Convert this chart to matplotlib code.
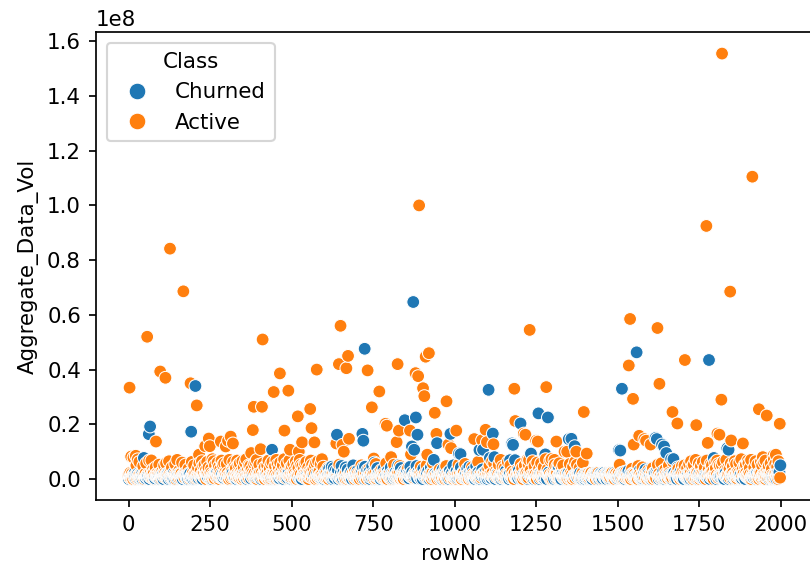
import numpy as np
import pandas as pd
import matplotlib
matplotlib.use("Agg")
import matplotlib.pyplot as plt
import seaborn as sns

# Bulk of the rows: one character per rowNo, volume in quarter-million steps.
# Active:  '0'-'9' -> 0..9,  'A'-'Z' -> 10..35
# Churned: 'a'-'z' -> 0..25
band_lines = [
    "4a7c29e1G5 8b3f0Mh62j 5d9aK3g07i 1e6Pb48c2f 9h3a5Jd70g 2i8bN4e16c 7f0Ra5h39d 3g6c1Ej82a 0b5Hi7d4f9 6c2eL8a3h1",
    "8d4B7g1a5K 3f9c6Ne28h 0i5aQ7d39b 6e2Hg41c8j 4a7Mf30d5S 9b6h2Ci47e 1g8dO3a60f 5c2jL9e74b 7h0aF8g13i 2d6cP5f9a4",
    "6K3a8E1d9R 2f7G5b0N4h 8C1e6Q3a7J 4g9L2c5D0i 7P3d8H1f6M 0b5F9a2T7e 3Q6c1K8g4B 9j2O7e5I0d 5E8a3R6h1L 1c7N4f9A2g",
    "7M2b9F5a0S 4e8K1h6C3j 0P5d7I2c9G 6a3R8f4L1b 2N9e5B7g0Q 8c4H1i6O3d 5T0a7D2f8K 1h6J9b3E5e 9F2g4M8c1P 3a7S0d6G4i",
    "5L8c1Q4a9E 2g6N3d7H0f 8B5i2K9b4R 0e7F6a1M3h 4P9c8D2g5J 7a3S0f6L1d 1G8b5O4e9C 6h2K7a3T0i 3E9d1N8c6g 9j4R5b2H7a",
    "2I7f4M9a1D 8c3Q6e0K5h 5G1b8S2d7L 0a9J4g6E3i 7N5c1P8f2b 3H0e6C9a4R 9d2L7h5F1g 4K8a0O3c6j 1Q6e9B2f5M 6b3T8d4I0a",
    "a7c2k5e9b1 f4Gh0p8d3j 6i1s7a4c9q e2b8m5g0f3 h6n1a9Ld4c 7j2t0e5b8k i3f6a1r9g4 d0o7c5Hb2j 8e4l1a6h9u f3c0Bd7g2i",
    "b5m8a2e7c0 g9f4Kj1h6r 3d8a5s2i7b c0n9e4g1Fl 6a3h8d2t5j f7b0o4c9Ma 1e6q3g8i2k 5h0a7Dd4j9 b2p8f6c1e3 Ng5a0m7h4i",
    "c8e1r6a3j0 h5b9Lg2d7k 4f0i6c8u3a e9Jb1q5h2d 7g4a0m8c6f 2j9n3e1Gi5 b6h0s4a8d1 k3c7f2Pe9g 0a5t8b4j6l h1d7c3Ia9e",
    "d6a0p5f2h8 c3e7Ki9b1m 5g2a8d4r6j 0f9Nc3e7h1 i4b6s2a0g8 k5d1Ef3c9j 7a2o8h6b4e g0q5Jd1i3c 9f6a7m2Bh4 e8j1c5u0d3",
    "f2h9a4m0c6 e8Ld3j7b1r 5a0g6i2k9d c4Mf8h1b3p 7e5a0s9j2g 1d6Hc4n8f3 i0a7e5t2h9 b3Pk1g6d4a 8c2f0o7Ji5 h9e3a1l6b4",
    "3a8F2c6K0e 7d1b5Q9h4j 2N6f0a8C3g 9i4e7L1b5d 0S3a9h2I6c 5f8G1j4m7b 1d6P3e0a9h 8K2c5g7B4i 6a0R9f1d3e 4j7E2b8n5h",
    "7c2M5a9G1f 0h6e3K8d4j 9b1S7a2L5g 3i8D0f6c1Q 5e4a9J2h7b 1d0O6c8g3F 8a5i2N7f4e 2j9H1b6d0T 6c3a8E5h9k 4g7R0e1a6d",
    "0f5C8a3L7h 6b2e9J1d4s 2N7g0c5a8F 9i3K6f1e4b 5d8a2Q7h0j 3c6M1g9e5a 7b0I4d2f8P 1h5a6L3c9i 8e2G7j0b4d 4a9O1f6c3h",
    "a3c7e1g5i0 b8d2f6h4j9 c1a5e3i7g2 d6b0h8f4j1 e9c3a7g2i5 f0d4b8h6j3 g7e1c5a9i4 h2f6d0b3j8 i5g9e3c1a7 j0h4f8d2b6",
    "b4d8a2Lf6h 1c9e3j7g0k i5a8d2Bh4f 6b1m9c3e7j a0g5Fi2d8l 3h7b4e1c9a 5f0Jj6g2n8 d4a1c7Hb3e 9i5f2o8h6a c0g4Dj1e7b",
    "e6a2q8c4Gf 0h9d3j5b1l 7i2Lg6a8e4 c1f5Nb9d3h m0j6a2Ec8g 4e7b1i5Kd9 f3h0o6a2c7 Pg8j4b1e5d i9a3r7Fh2c 6f0m4d8Jb1",
    "5D2a8K1e6h 9c4G7f0b3M 2j6a9Q4d1I 7e0L5c8h3S 1g6B9a2f7N 4i0d5J8e1c 8P3b6a9H2g 0f7R4d1c5E 6h2a8M3j9K 3e5C0b7g4O",
    "8G1a6R4c2M 5e9K3d7f0L 1h4P8b2a6D 9j3S5e0c7H 4a8F2g6N1i 7d0J9b5e3Q 2c6M8a1f4B 6h9O3d7g0T 0b5E1i8c2K 3a7L9e4f6R",
    "4N9b2G7a1S 0d5M8e3c6H 7f2Q4a9i1L 3h6E0j8d5P 9b1K5c2g7O 6a4R0e3f8D 2i9J7a5h1N 8c3F6d0b4T 1e7M2g9a5I 5j0Q8c4f2u",
]
band_step = 0.25e6

# Rows standing clear of the band (rowNo, volume in millions)
active_rows = [3, 8, 15, 22, 28, 57, 70, 84, 97, 113, 127, 168, 190, 209, 216,
               235, 246, 249, 283, 298, 305, 313, 320, 376, 381, 384, 405, 409,
               411, 445, 464, 478, 490, 495, 519, 522, 532, 557, 561, 570, 577,
               637, 645, 650, 656, 660, 668, 673, 676, 733, 746, 752, 769, 788,
               792, 805, 822, 825, 829, 863, 866, 880, 888, 891, 903, 907, 911,
               916, 921, 939, 944, 975, 981, 989, 1005, 1060, 1084, 1095, 1099,
               1119, 1183, 1186, 1212, 1217, 1228, 1230, 1250, 1255, 1281, 1297,
               1306, 1312, 1337, 1345, 1373, 1396, 1405, 1534, 1538, 1547, 1549,
               1566, 1582, 1587, 1601, 1622, 1628, 1668, 1683, 1706, 1741, 1772,
               1776, 1806, 1812, 1818, 1820, 1845, 1848, 1884, 1913, 1933, 1945,
               1957, 1978, 1985, 1997]
active_vol = [33.4, 8.2, 7.8, 8.5, 7.2, 52.0, 6.8, 13.7, 39.3, 37.0, 84.2, 68.6,
              35.0, 26.9, 8.9, 12.0, 14.8, 12.0, 13.7, 11.9, 14.0, 15.5, 13.0,
              9.5, 17.9, 26.4, 10.9, 26.4, 51.0, 31.8, 38.6, 17.7, 32.3, 10.7,
              22.9, 10.0, 13.4, 25.6, 18.6, 13.4, 40.0, 13.0, 42.0, 56.0, 12.5,
              10.0, 40.5, 45.0, 14.7, 39.7, 26.2, 7.5, 32.0, 20.2, 19.5, 8.0,
              13.5, 42.0, 17.7, 17.7, 9.0, 38.7, 37.6, 100.0, 33.2, 30.3, 44.7,
              8.9, 46.0, 24.2, 16.5, 28.4, 12.6, 11.3, 17.7, 14.6, 14.2, 18.0,
              13.5, 12.7, 33.0, 21.2, 16.6, 16.2, 7.0, 54.5, 14.0, 13.7, 33.6,
              7.3, 7.0, 13.7, 10.0, 10.0, 10.0, 24.5, 9.3, 41.5, 58.5, 29.3,
              12.6, 15.8, 14.6, 14.0, 12.6, 55.2, 34.8, 24.5, 20.3, 43.5, 19.7,
              92.5, 13.2, 16.6, 16.2, 29.0, 155.5, 68.5, 14.1, 13.0, 110.5, 25.5,
              8.0, 23.2, 8.6, 8.9, 20.2]

churned_rows = [47, 62, 66, 192, 205, 440, 639, 717, 720, 724, 754, 847, 869,
                873, 876, 881, 886, 936, 946, 987, 1013, 1018, 1076, 1087, 1104,
                1108, 1117, 1122, 1170, 1176, 1179, 1185, 1202, 1234, 1257, 1278,
                1286, 1350, 1358, 1368, 1504, 1508, 1513, 1558, 1616, 1620, 1636,
                1642, 1649, 1664, 1671, 1780, 1795, 1836, 1840, 1996]
churned_vol = [7.7, 16.4, 19.2, 17.3, 34.0, 10.7, 16.2, 16.5, 14.0, 47.6, 6.0,
               21.5, 11.9, 64.7, 10.7, 22.5, 16.2, 7.0, 13.1, 16.5, 9.3, 9.1,
               10.6, 10.7, 32.6, 7.7, 16.6, 8.0, 6.9, 13.0, 12.5, 6.9, 20.3, 9.3,
               24.0, 9.0, 22.5, 14.6, 14.7, 12.0, 10.6, 10.4, 33.0, 46.3, 15.0,
               14.6, 12.6, 11.9, 9.5, 7.3, 7.3, 43.5, 7.7, 11.2, 10.7, 2.5]


def decode(ch):
    if ch.isdigit():
        return "Active", int(ch)
    if ch.isupper():
        return "Active", 10 + ord(ch) - ord("A")
    return "Churned", ord(ch) - ord("a")


# Assemble the table, one entry per rowNo
records = {}
for i, ch in enumerate("".join(band_lines).replace(" ", "")):
    cls, steps = decode(ch)
    records[i] = (cls, steps * band_step)
for r, v in zip(active_rows, active_vol):
    records[r] = ("Active", v * 1e6)
for r, v in zip(churned_rows, churned_vol):
    records[r] = ("Churned", v * 1e6)

rows = sorted(records)
df = pd.DataFrame({
    "rowNo": rows,
    "Aggregate_Data_Vol": [records[r][1] for r in rows],
    "Class": [records[r][0] for r in rows],
})

fig = plt.figure(figsize=(810 / 154, 570 / 154), dpi=154)
ax = fig.add_axes([96 / 810, 1 - 500.3 / 570, (813 - 96) / 810, (500.3 - 32.3) / 570])

sns.scatterplot(data=df, x="rowNo", y="Aggregate_Data_Vol", hue="Class",
                hue_order=["Churned", "Active"], ax=ax)
sns.move_legend(ax, "upper left", markerscale=1.3)

fig.savefig("out.png", dpi=154)
